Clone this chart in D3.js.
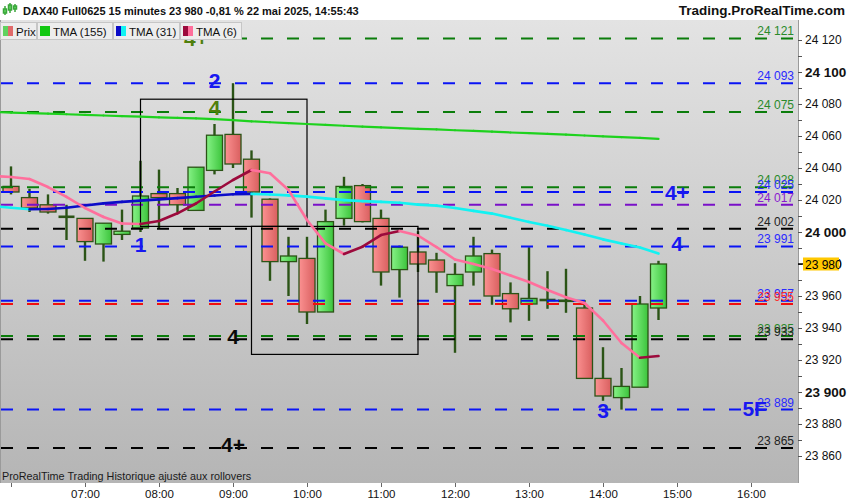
<!DOCTYPE html>
<html><head><meta charset="utf-8">
<script src="https://cdn.jsdelivr.net/npm/d3@7"></script>
<style>body{margin:0;background:#fff;} svg{display:block;font-family:"Liberation Sans",Arial,sans-serif;}</style>
</head><body><svg id="c" width="850" height="500"></svg>
<script>
// ---------- DATA ----------
const times = ["06:00","06:15","06:30","06:45","07:00","07:15","07:30","07:45","08:00","08:15","08:30","08:45",
  "09:00","09:15","09:30","09:45","10:00","10:15","10:30","10:45","11:00","11:15","11:30","11:45",
  "12:00","12:15","12:30","12:45","13:00","13:15","13:30","13:45","14:00","14:15","14:30","14:45"];
const open  = [24028.5,24021.5,24017,24009.5,24008.5,23992.5,23998.5,24002.5,24024,24024,24013.5,24038.5,
  24061,24045.5,24020.5,23981.5,23983.5,23950,24008.5,24029,24008.5,23976.5,23987.5,23982.5,
  23966.5,23975,23986.5,23961.5,23955,23957.5,23957,23952.5,23908.5,23896.5,23903,23952.5];
const high  = [24041,24027,24023.5,24017,24008.5,24005.5,24014,24044.5,24039,24027.5,24040.5,24067.5,
  24093,24051,24021,23997,23997,24014,24034.5,24030,24014,23991.5,24000.5,23987,
  23980.5,23997,23989,23968.5,23990.5,23975.5,23977,23957.5,23928,23915,23960,23982];
const low   = [24023.5,24012.5,24011.5,23995,23982,23981.5,23995,24000,24002.5,24012.5,24013.5,24036,
  24040,24009,23969.5,23960,23942.5,23950,24004,24006,23966.5,23959,23975,23962,
  23924.5,23966.5,23954.5,23943.5,23944.5,23952,23949.5,23908.5,23894.5,23889,23903,23945];
const close = [24025,24015,24012.5,24009.5,23994,24005.5,24000.5,24022.5,24021.5,24017,24040.5,24060.5,
  24042.5,24025,23981.5,23985,23950,24006.5,24028.5,24006.5,23975,23990.5,23980,23975,
  23973.5,23985,23960,23952,23958.5,23957.5,23957,23908.5,23897.5,23903.5,23955,23980];

// moving averages: one extra leading point (05:45)
const maTimes = ["05:45"].concat(times);
const tma155 = [24075,24074.6,24074.3,24074,24073.6,24073.2,24072.8,24072.4,24072.1,24071.7,24071.3,24071,24070.5,
  24069.9,24069.2,24068.6,24068.1,24067.5,24067,24066.4,24065.8,24065.4,24064.9,24064.5,24064.1,
  24063.6,24063.2,24062.7,24062.2,24061.8,24061.3,24060.8,24060.3,24059.8,24059.3,24058.8,24058.2];
const tma31 = [24016.2,24015.2,24014.2,24014.4,24015.2,24016.6,24017.9,24018.8,24019.6,24020.4,24021.2,24022,24022.8,
  24023.6,24023.8,24023.4,24022.9,24022.1,24021,24019.9,24019.3,24018.8,24018.3,24017.1,24016.5,
  24015,24013.2,24011.5,24008.9,24006.3,24003.9,24001.2,23998.4,23995.4,23992.8,23990.3,23986.5];
const tma6 = [24035,24034.4,24033.1,24028.1,24021.9,24015,24009.4,24005.3,24005,24006.9,24011.7,24017.8,24025.3,
  24032.5,24038.75,24036.7,24026.25,24007.5,23992.9,23986.25,23990.8,23998.1,24000.6,23997.8,23990.6,
  23982.8,23980,23976.9,23972.8,23968.75,23963.75,23959.2,23955.6,23944.7,23930.6,23921.4,23922.5];

// horizontal levels
const levelValues = [24121,24093,24075,24028,24025,24017,24002,23991,23957,23955,23935,23933,23889,23865];
const levelGroups = ["g","b","g","g","b","p","k","b","b","r","g","k","b","k"];

// boxes
const boxStart = ["07:45","09:15"];
const boxEnd   = ["10:00","11:30"];
const boxTop   = [24083,24003.5];
const boxBottom= [24003.5,23923.5];

// annotations
const noteText  = ["4+","2","4","1","4","4+","3","4","4+","5F"];
const noteTime  = ["08:30","08:45","08:45","07:45","09:00","09:00","14:00","15:00","15:00","16:03"];
const noteValue = [24121,24094.5,24078,23992.5,23934.5,23867,23888.5,23993,24025,23890];
const noteGroup = ["o","b","o","b","k","k","b","b","b","b"];

const priceTicks = d3.range(23850, 24131, 10);
const hourTicks = ["06:00","07:00","08:00","09:00","10:00","11:00","12:00","13:00","14:00","15:00","16:00"];

// ---------- DRAW ----------
const svg = d3.select("#c");
const plotL = 0, plotR = 798, plotT = 20, plotB = 483;
const toMin = s => { const p = s.split(":").map(Number); return p[0]*60 + p[1]; };
const x = d3.scaleLinear().domain([360, 960]).range([11, 751]);
const y = d3.scaleLinear().domain([23860, 24120]).range([456, 40]);
const fr = d3.formatLocale({decimal:",", thousands:" ", grouping:[3], currency:["","€"]});
const fmt = fr.format(",.0f");

const levelColor = d3.scaleOrdinal().domain(["g","b","p","k","r"]).range(["#0b7d0b","#0a14f5","#7a10c8","#000000","#f01010"]);
const labelColor = d3.scaleOrdinal().domain(["g","b","p","k","r"]).range(["#2a8a2a","#2a2aff","#8a1ad0","#222222","#ff2a2a"]);
const noteColor = d3.scaleOrdinal().domain(["o","b","k"]).range(["#4f7f0c","#1818f0","#0a0a0a"]);

const defs = svg.append("defs");
const bg = defs.append("linearGradient").attr("id","bg").attr("x1",0).attr("y1",0).attr("x2",0).attr("y2",1);
bg.append("stop").attr("offset","0%").attr("stop-color","#e3e3e3");
bg.append("stop").attr("offset","100%").attr("stop-color","#b5b5b5");
const gg = defs.append("linearGradient").attr("id","gup").attr("x1",0).attr("x2",1).attr("y1",0).attr("y2",0);
gg.append("stop").attr("offset","0%").attr("stop-color","#86f286");
gg.append("stop").attr("offset","100%").attr("stop-color","#3cc43c");
const gr = defs.append("linearGradient").attr("id","gdn").attr("x1",0).attr("x2",1).attr("y1",0).attr("y2",0);
gr.append("stop").attr("offset","0%").attr("stop-color","#fb9191");
gr.append("stop").attr("offset","100%").attr("stop-color","#d95f5f");
defs.append("clipPath").attr("id","clip").append("rect")
  .attr("x",plotL).attr("y",plotT).attr("width",plotR-plotL).attr("height",plotB-plotT);

svg.append("rect").attr("width",850).attr("height",500).attr("fill","#fff");
svg.append("rect").attr("x",plotL).attr("y",plotT).attr("width",plotR-plotL).attr("height",plotB-plotT).attr("fill","url(#bg)");
svg.append("line").attr("x1",0.5).attr("x2",0.5).attr("y1",plotT).attr("y2",plotB).attr("stroke","#9a9a9a");

const plot = svg.append("g").attr("clip-path","url(#clip)");

// candles
const cg = plot.append("g");
const candleColor = "#2b5416";
times.forEach((t,i) => {
  const cx = x(toMin(t));
  cg.append("line").attr("x1",cx).attr("x2",cx).attr("y1",y(high[i])).attr("y2",y(low[i]))
    .attr("stroke",candleColor).attr("stroke-width",2.4);
  const up = close[i] >= open[i];
  const top = y(Math.max(open[i],close[i])), bot = y(Math.min(open[i],close[i]));
  if (bot - top < 1) {
    cg.append("line").attr("x1",cx-8).attr("x2",cx+8).attr("y1",top).attr("y2",top)
      .attr("stroke",candleColor).attr("stroke-width",2.6);
  } else {
    cg.append("rect").attr("x",cx-8).attr("y",top).attr("width",16).attr("height",bot-top)
      .attr("fill", up ? "url(#gup)" : "url(#gdn)").attr("stroke",candleColor).attr("stroke-width",1.3);
  }
});

// level lines
const lg = plot.append("g");
levelValues.forEach((v,i) => {
  lg.append("line").attr("x1",1).attr("x2",793).attr("y1",y(v)).attr("y2",y(v))
    .attr("stroke",levelColor(levelGroups[i])).attr("stroke-width",2).attr("stroke-dasharray","12 14");
});

// boxes
boxStart.forEach((s,i) => {
  const x0 = x(toMin(s)), x1 = x(toMin(boxEnd[i]));
  plot.append("rect").attr("x",x0).attr("y",y(boxTop[i])).attr("width",x1-x0).attr("height",y(boxBottom[i])-y(boxTop[i]))
    .attr("fill","none").attr("stroke","#000").attr("stroke-width",1.2);
});

// moving averages
function drawMA(vals, upCol, dnCol, w) {
  const g = plot.append("g");
  for (let i = 1; i < vals.length; i++) {
    g.append("line")
      .attr("x1",x(toMin(maTimes[i-1]))).attr("y1",y(vals[i-1]))
      .attr("x2",x(toMin(maTimes[i]))).attr("y2",y(vals[i]))
      .attr("stroke", vals[i] >= vals[i-1] ? upCol : dnCol)
      .attr("stroke-width",w).attr("stroke-linecap","round");
  }
}
drawMA(tma155, "#1ed21e", "#1ed21e", 2.2);
drawMA(tma31, "#0c0cc8", "#12f2f2", 2.6);
drawMA(tma6, "#9c0a3c", "#ff6f9c", 2.6);

// level labels
const llg = svg.append("g").attr("font-size",12);
levelValues.forEach((v,i) => {
  llg.append("text").attr("x",794).attr("y",y(v)-3).attr("text-anchor","end")
    .attr("fill",labelColor(levelGroups[i])).text(fmt(v));
});

// annotations
const ng = svg.append("g").attr("font-size",21).attr("font-weight","bold").attr("text-anchor","middle");
noteText.forEach((t,i) => {
  ng.append("text").attr("x",x(toMin(noteTime[i]))).attr("y",y(noteValue[i])).attr("dy","0.36em")
    .attr("fill",noteColor(noteGroup[i])).text(t);
});

// bottom-left note
svg.append("text").attr("x",2).attr("y",480).attr("font-size",10.8).attr("fill","#1a1a1a")
  .text("ProRealTime Trading  Historique ajusté aux rollovers");

// price axis
svg.append("line").attr("x1",plotR+0.5).attr("x2",plotR+0.5).attr("y1",plotT).attr("y2",plotB).attr("stroke","#9a9a9a");
const yAxis = d3.axisRight(y).tickValues(priceTicks).tickSize(4).tickPadding(3)
  .tickFormat(v => (v % 20 === 0) ? fmt(v) : "");
const ya = svg.append("g").attr("transform",`translate(${plotR},0)`).call(yAxis);
ya.select(".domain").remove();
ya.selectAll(".tick line").attr("stroke","#555");
ya.selectAll(".tick text").attr("font-family","Liberation Sans, Arial, sans-serif").attr("font-size",12).attr("fill","#111")
  .filter(v => v % 100 === 0).attr("font-weight","bold").attr("font-size",13.5);
ya.selectAll(".tick").filter(v => v < 23855 || v > 24125).remove();

// current price marker
const lastC = close[close.length-1];
svg.append("line").attr("x1",plotR).attr("x2",plotR+5).attr("y1",y(lastC)).attr("y2",y(lastC)).attr("stroke","#000").attr("stroke-width",1.5);
svg.append("rect").attr("x",803).attr("y",y(lastC)-6.5).attr("width",36).attr("height",13).attr("fill","#ffc800");
svg.append("text").attr("x",805).attr("y",y(lastC)+4.5).attr("font-size",12).attr("fill","#000").text(fmt(lastC));

// time axis
const xAxis = d3.axisBottom(x).tickValues(hourTicks.map(toMin)).tickSize(4).tickPadding(3)
  .tickFormat(m => m === 360 ? "" : d3.format("02d")(Math.floor(m/60)) + ":00");
const xa = svg.append("g").attr("transform",`translate(0,${plotB})`).call(xAxis);
xa.select(".domain").remove();
xa.selectAll(".tick line").attr("stroke","#666");
xa.selectAll(".tick text").attr("font-family","Liberation Sans, Arial, sans-serif").attr("font-size",11.5).attr("fill","#111");

// title bar
svg.append("rect").attr("x",0).attr("y",0).attr("width",850).attr("height",plotT).attr("fill","#fff");
const ic = svg.append("g").attr("stroke","#3aa63a").attr("stroke-width",1.5);
[[5,6,15,9,13],[10,3,13,5,10],[15,4,12,6,9]].forEach(c => {
  ic.append("line").attr("x1",c[0]).attr("x2",c[0]).attr("y1",c[1]).attr("y2",c[2]);
  ic.append("rect").attr("x",c[0]-1.5).attr("y",c[3]).attr("width",3).attr("height",c[4]-c[3]).attr("fill","#5fd25f");
});
svg.append("text").attr("x",23).attr("y",15).attr("font-size",11).attr("font-weight","bold").attr("fill","#111")
  .text("DAX40 Full0625 15 minutes 23 980 -0,81 % 22 mai 2025, 14:55:43");
svg.append("text").attr("x",845).attr("y",15).attr("font-size",13.5).attr("font-weight","bold").attr("fill","#111")
  .attr("text-anchor","end").text("Trading.ProRealTime.com");

// legend
const legNames = ["Prix","TMA (155)","TMA (31)","TMA (6)"];
const legColA = ["#5fd25f","#12c812","#0c0cc8","#9c0a3c"];
const legColB = ["#e06a6a","#12c812","#12f2f2","#ff6f9c"];
const legX = [0,37,113,180,242];
const leg = svg.append("g");
legNames.forEach((n,i) => {
  leg.append("rect").attr("x",legX[i]+0.5).attr("y",22.5).attr("width",legX[i+1]-legX[i]-1).attr("height",17)
    .attr("fill","#ededed").attr("stroke","#c6c6c6");
  leg.append("rect").attr("x",legX[i]+3).attr("y",26).attr("width",5).attr("height",10).attr("fill",legColA[i]);
  leg.append("rect").attr("x",legX[i]+8).attr("y",26).attr("width",5).attr("height",10).attr("fill",legColB[i]);
  leg.append("text").attr("x",legX[i]+16).attr("y",35.5).attr("font-size",11.5).attr("fill","#111").text(n);
});
</script></body></html>
